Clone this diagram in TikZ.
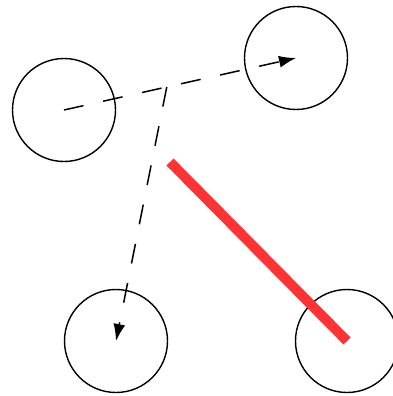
\documentclass[tikz,border=0pt]{standalone}
\usetikzlibrary{arrows.meta}
\definecolor{redline}{RGB}{255,51,51}
\begin{document}
\begin{tikzpicture}[x=1pt,y=-1pt,
  ball/.style={draw=black,line width=1.4pt,circle,minimum size=103pt,inner sep=0pt},
  move/.style={draw=black,line width=1.5pt,dash pattern=on 20pt off 20pt,-{Latex[length=17pt,width=12pt]}},
  hit/.style={draw=redline,line width=10pt}]
\useasboundingbox (0,0) rectangle (392,396);
\node[ball] (a) at (64,110) {};
\node[ball] (b) at (296,58) {};
\node[ball] (c) at (116,341) {};
\node[ball] (d) at (347,341) {};
\path (a.center) -- (b.center) coordinate[pos=0.443] (m);
\draw[move] (a.center) -- (b.center);
\draw[move] (m) -- (c.center);
\coordinate (r) at (170,162);
\draw[hit] (r) -- (d.center);
\end{tikzpicture}
\end{document}
